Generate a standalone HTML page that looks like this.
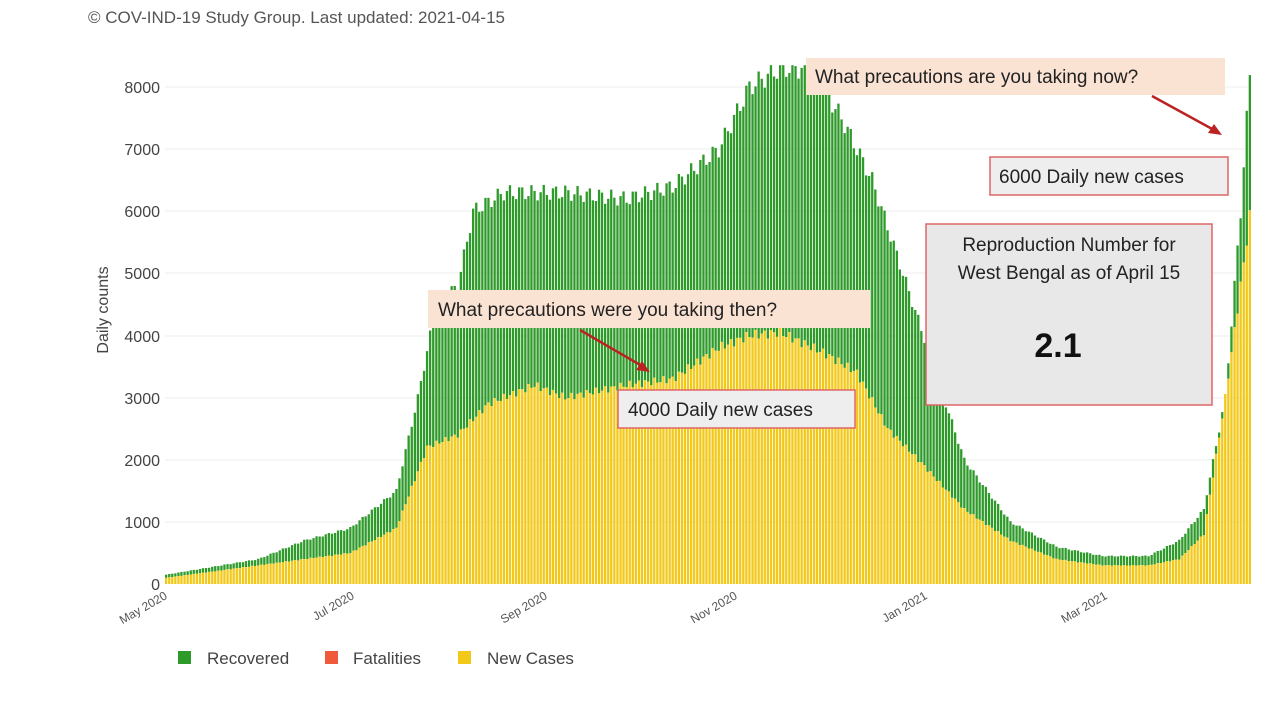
<!DOCTYPE html>
<html><head><meta charset="utf-8"><style>
body{margin:0;background:#fff;width:1280px;height:715px;overflow:hidden;font-family:"Liberation Sans",sans-serif}
</style></head><body>
<svg id="s" width="1280" height="715" xmlns="http://www.w3.org/2000/svg" font-family="Liberation Sans, sans-serif">
<rect width="1280" height="715" fill="#fff"/>
<text x="88" y="23" font-size="17" fill="#555">© COV-IND-19 Study Group. Last updated: 2021-04-15</text>
<g stroke="#eee" stroke-width="1">
<line x1="165" x2="1250" y1="522" y2="522"/><line x1="165" x2="1250" y1="460" y2="460"/>
<line x1="165" x2="1250" y1="398" y2="398"/><line x1="165" x2="1250" y1="336" y2="336"/>
<line x1="165" x2="1250" y1="273" y2="273"/><line x1="165" x2="1250" y1="211" y2="211"/>
<line x1="165" x2="1250" y1="149" y2="149"/><line x1="165" x2="1250" y1="87" y2="87"/>
</g>
<g font-size="16" fill="#444" text-anchor="end">
<text x="160" y="590">0</text><text x="160" y="528">1000</text><text x="160" y="466">2000</text>
<text x="160" y="404">3000</text><text x="160" y="342">4000</text><text x="160" y="279">5000</text>
<text x="160" y="217">6000</text><text x="160" y="155">7000</text><text x="160" y="93">8000</text>
</g>
<text transform="translate(108,310) rotate(-90)" font-size="16" fill="#444" text-anchor="middle">Daily counts</text>
<g id="bars"></g>
<g font-size="12" fill="#555" text-anchor="end">
<text transform="translate(168,598) rotate(-30)">May 2020</text>
<text transform="translate(355,598) rotate(-30)">Jul 2020</text>
<text transform="translate(548,598) rotate(-30)">Sep 2020</text>
<text transform="translate(738,598) rotate(-30)">Nov 2020</text>
<text transform="translate(928,598) rotate(-30)">Jan 2021</text>
<text transform="translate(1108,598) rotate(-30)">Mar 2021</text>
</g>
<g font-size="17" fill="#444">
<rect x="178" y="651" width="13" height="13" fill="#2e9a2a"/><text x="207" y="664">Recovered</text>
<rect x="325" y="651" width="13" height="13" fill="#ef5a3a"/><text x="353" y="664">Fatalities</text>
<rect x="458" y="651" width="13" height="13" fill="#f2c919"/><text x="487" y="664">New Cases</text>
</g>
<rect x="806" y="58" width="419" height="37" fill="#fbe3d4"/>
<text x="815" y="83" font-size="19" fill="#222">What precautions  are you taking   now?</text>
<line x1="1152" y1="96" x2="1214" y2="130" stroke="#b22" stroke-width="2.5"/>
<polygon points="1222,135 1208,133 1214,124" fill="#b22"/>
<rect x="990" y="157" width="238" height="38" fill="#eee" stroke="#d66" stroke-width="1.5"/>
<text x="999" y="183" font-size="19" fill="#222">6000 Daily new cases</text>
<rect x="926" y="224" width="286" height="181" fill="#e8e8e8" stroke="#d66" stroke-width="1.5"/>
<text x="1069" y="251" font-size="19" fill="#222" text-anchor="middle">Reproduction Number for</text>
<text x="1069" y="279" font-size="19" fill="#222" text-anchor="middle">West Bengal as of April 15</text>
<text x="1058" y="357" font-size="34" font-weight="bold" fill="#111" text-anchor="middle">2.1</text>
<rect x="428" y="290" width="442" height="38" fill="#fbe3d4"/>
<text x="438" y="316" font-size="19" fill="#222">What precautions were you taking  then?</text>
<line x1="580" y1="330" x2="642" y2="366" stroke="#b22" stroke-width="2.5"/>
<polygon points="650,372 636,370 642,361" fill="#b22"/>
<rect x="618" y="390" width="237" height="38" fill="#eee" stroke="#d66" stroke-width="1.5"/>
<text x="628" y="416" font-size="19" fill="#222">4000 Daily new cases</text>
</svg>
<script>
var Y=[[0,100],[30,300],[45,400],[60,500],[75,900],[85,2200],[95,2400],[105,2900],[120,3200],[130,3000],[150,3200],[165,3300],[180,3800],[190,4000],[200,4050],[215,3700],[225,3400],[235,2500],[245,2000],[260,1200],[275,700],[290,400],[305,300],[320,300],[330,400],[338,800],[345,3000],[350,4800],[353,5900]];
var G=[[0,150],[30,400],[45,700],[60,900],[75,1500],[82,3000],[88,4500],[95,4800],[100,6000],[110,6300],[130,6300],[150,6200],[165,6400],[180,7000],[190,8000],[200,8300],[210,8300],[220,7500],[230,6500],[240,5000],[250,3500],[260,2000],[275,1000],[290,600],[305,450],[320,450],[330,700],[338,1200],[345,3000],[350,6000],[353,8200]];
function f(a,d){for(var i=1;i<a.length;i++){if(d<=a[i][0]){var t=(d-a[i-1][0])/(a[i][0]-a[i-1][0]);return a[i-1][1]+t*(a[i][1]-a[i-1][1]);}}return a[a.length-1][1];}
var h='',k=0.06213;
for(var d=0;d<=353;d++){var x=165+d*3.07,g=Math.min(8350,f(G,d)*(1+0.02*Math.sin(d*1.7))),y=f(Y,d)*(1+0.02*Math.sin(d*2.3));if(g<y)g=y;
h+='<rect x="'+x.toFixed(1)+'" y="'+(584-g*k).toFixed(1)+'" width="2.3" height="'+((g-y)*k).toFixed(1)+'" fill="#2e9a2a"/>';
h+='<rect x="'+x.toFixed(1)+'" y="'+(584-y*k).toFixed(1)+'" width="2.3" height="'+(y*k).toFixed(1)+'" fill="#f2c919"/>';}
document.getElementById('bars').innerHTML=h;
</script>
</body></html>
